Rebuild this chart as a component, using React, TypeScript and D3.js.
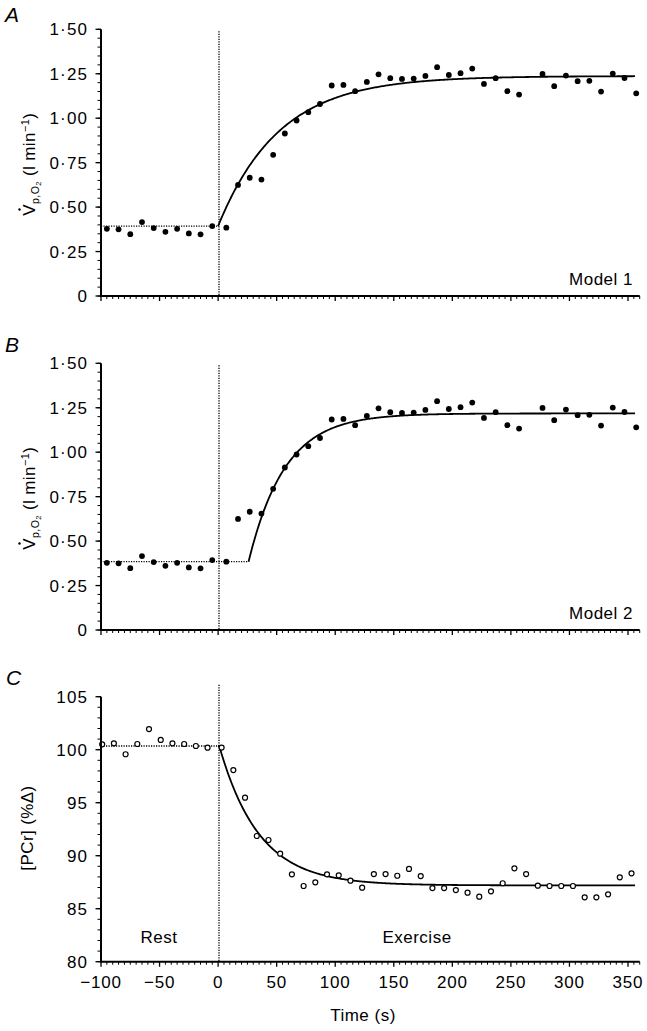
import React from "react";
import * as d3 from "d3";

// ---- Data ----
const restTimes = [-95, -85, -75, -65, -55, -45, -35, -25, -15, -5];
const restVO2 = [0.378, 0.375, 0.348, 0.416, 0.382, 0.361, 0.378, 0.352, 0.347, 0.393];
const exTimes = [7, 17, 27, 37, 47, 57, 67, 77, 87, 97, 107, 117, 127, 137, 147, 157, 167, 177, 187, 197, 207, 217, 227, 237, 247, 257, 277, 287, 297, 307, 317, 327, 337, 347, 357];
const exVO2 = [0.384, 0.625, 0.665, 0.655, 0.794, 0.914, 0.987, 1.034, 1.08, 1.184, 1.187, 1.152, 1.204, 1.247, 1.225, 1.221, 1.223, 1.238, 1.287, 1.243, 1.253, 1.279, 1.193, 1.225, 1.152, 1.133, 1.249, 1.18, 1.24, 1.208, 1.21, 1.15, 1.251, 1.226, 1.14];

const pcrRestTimes = [-99, -89, -79, -69, -59, -49, -39, -29, -19, -9];
const pcrRest = [100.51, 100.6, 99.57, 100.54, 101.95, 100.92, 100.6, 100.54, 100.35, 100.19];
const pcrExTimes = [3, 13, 23, 33, 43, 53, 63, 73, 83, 93, 103, 113, 123, 133, 143, 153, 163, 173, 183, 193, 203, 213, 223, 233, 243, 253, 263, 273, 283, 293, 303, 313, 323, 333, 343, 353];
const pcrEx = [100.2, 98.08, 95.47, 91.86, 91.48, 90.19, 88.24, 87.14, 87.49, 88.24, 88.15, 87.64, 86.98, 88.27, 88.27, 88.11, 88.75, 88.08, 86.95, 86.95, 86.76, 86.51, 86.13, 86.64, 87.4, 88.81, 88.27, 87.17, 87.14, 87.14, 87.14, 86.07, 86.07, 86.36, 87.96, 88.34];

// model fit parameters [baseline, asymptote, tau, delay]
const fitModel1 = [0.393, 1.237, 52, 0];
const fitModel2 = [0.384, 1.218, 31, 26];
const fitPCr = [100.35, 87.2, 34, 1];

const xTicks = [-100, -50, 0, 50, 100, 150, 200, 250, 300, 350];
const vo2Ticks = [0, 0.25, 0.5, 0.75, 1.0, 1.25, 1.5];
const pcrTicks = [80, 85, 90, 95, 100, 105];

const FONT = "'Liberation Sans', Arial, Helvetica, sans-serif";

const x = d3.scaleLinear().domain([-100, 350]).range([101, 628]);
const X_END = 360;

function fitPoints(p: number[]) {
  const [b, a, tau, td] = p;
  const pts: [number, number][] = [];
  for (let t = td; t <= 356; t += 1) {
    pts.push([t, b + (a - b) * (1 - Math.exp(-(t - td) / tau))]);
  }
  return pts;
}

function fmtVO2(v: number) {
  if (v === 0) return "0";
  return v.toFixed(2).replace(".", "·");
}

function XAxis({ y, labels }: { y: number; labels: boolean }) {
  const minor = d3.range(-100, X_END + 1, 5).filter((t) => t % 50 !== 0);
  return (
    <g>
      <line x1={x(-100)} x2={x(X_END)} y1={y} y2={y} stroke="#000" strokeWidth={2} />
      {minor.map((t) => (
        <line key={"m" + t} x1={x(t)} x2={x(t)} y1={y} y2={y + 3} stroke="#000" strokeWidth={1} />
      ))}
      {xTicks.map((t) => (
        <line key={"M" + t} x1={x(t)} x2={x(t)} y1={y} y2={y + 5} stroke="#000" strokeWidth={1.3} />
      ))}
      {labels &&
        xTicks.map((t) => (
          <text key={"l" + t} x={x(t)} y={y + 26} textAnchor="middle" fontSize={17} fontFamily={FONT} letterSpacing={0.8}>
            {t < 0 ? "−" + Math.abs(t) : String(t)}
          </text>
        ))}
    </g>
  );
}

function YAxis({ scale, ticks, minorStep, fmt }: { scale: d3.ScaleLinear<number, number>; ticks: number[]; minorStep: number; fmt: (v: number) => string }) {
  const [d0, d1] = scale.domain();
  const minor = d3.range(d0, d1 + minorStep / 2, minorStep);
  return (
    <g>
      <line x1={101} x2={101} y1={scale(d0) + 1} y2={scale(d1)} stroke="#000" strokeWidth={2} />
      {minor.map((v, i) => (
        <line key={"m" + i} x1={101} x2={97.5} y1={scale(v)} y2={scale(v)} stroke="#000" strokeWidth={1} />
      ))}
      {ticks.map((v) => (
        <line key={"M" + v} x1={101} x2={95.5} y1={scale(v)} y2={scale(v)} stroke="#000" strokeWidth={1.3} />
      ))}
      {ticks.map((v) => (
        <text key={"l" + v} x={88} y={scale(v) + 6} textAnchor="end" fontSize={17} fontFamily={FONT} letterSpacing={1.1}>
          {fmt(v)}
        </text>
      ))}
    </g>
  );
}

function VO2Label({ by }: { by: number }) {
  return (
    <g transform={`translate(35,${by}) rotate(-90)`}>
      <text x={0} y={0} textAnchor="start" fontSize={17} fontFamily={FONT} letterSpacing={0.4}>
        <tspan>V</tspan>
        <tspan dy={4} fontSize={10.5}>p,O</tspan>
        <tspan dy={2} fontSize={7.5}>2</tspan>
        <tspan dy={-6}>{"  (l min"}</tspan>
        <tspan dy={-6} fontSize={11}>−1</tspan>
        <tspan dy={6}>)</tspan>
      </text>
      <circle cx={6.2} cy={-15.5} r={1.2} fill="#000" />
    </g>
  );
}

function VO2Panel({ top, bottom, fit, dotY, modelLabel, letter, letterY }: { top: number; bottom: number; fit: number[]; dotY: number; modelLabel: string; letter: string; letterY: number }) {
  const y = d3.scaleLinear().domain([0, 1.5]).range([bottom, top]);
  const line = d3.line<[number, number]>().x((d) => x(d[0])).y((d) => y(d[1]));
  const pts = fitPoints(fit);
  return (
    <g>
      <text x={5} y={letterY} fontSize={21} fontStyle="italic" fontFamily={FONT}>{letter}</text>
      <line x1={219} x2={219} y1={top + 2} y2={bottom} stroke="#000" strokeWidth={1.3} strokeDasharray="1.2,1.3" />
      <line x1={x(-100)} x2={x(fit[3])} y1={y(dotY)} y2={y(dotY)} stroke="#000" strokeWidth={1.3} strokeDasharray="1.2,1.3" />
      <path d={line(pts) || ""} fill="none" stroke="#000" strokeWidth={1.8} />
      {restTimes.map((t, i) => (
        <circle key={"r" + i} cx={x(t)} cy={y(restVO2[i])} r={2.9} fill="#000" />
      ))}
      {exTimes.map((t, i) => (
        <circle key={"e" + i} cx={x(t)} cy={y(exVO2[i])} r={2.9} fill="#000" />
      ))}
      <YAxis scale={y} ticks={vo2Ticks} minorStep={0.05} fmt={fmtVO2} />
      <XAxis y={bottom} labels={false} />
      <VO2Label by={(top + bottom) / 2 + 53} />
      <text x={633} y={bottom - 11} textAnchor="end" fontSize={17} fontFamily={FONT} letterSpacing={0.5}>{modelLabel}</text>
    </g>
  );
}

function PCrPanel() {
  const top = 696.7;
  const bottom = 961.7;
  const y = d3.scaleLinear().domain([80, 105]).range([bottom, top]);
  const line = d3.line<[number, number]>().x((d) => x(d[0])).y((d) => y(d[1]));
  const pts = fitPoints(fitPCr);
  return (
    <g>
      <text x={6} y={685} fontSize={21} fontStyle="italic" fontFamily={FONT}>C</text>
      <line x1={219} x2={219} y1={top - 12} y2={bottom} stroke="#000" strokeWidth={1.3} strokeDasharray="1.2,1.3" />
      <line x1={x(-100)} x2={x(0)} y1={y(fitPCr[0])} y2={y(fitPCr[0])} stroke="#000" strokeWidth={1.3} strokeDasharray="1.2,1.3" />
      <path d={line([[0, fitPCr[0]], ...pts]) || ""} fill="none" stroke="#000" strokeWidth={1.8} />
      {pcrRestTimes.map((t, i) => (
        <circle key={"r" + i} cx={x(t)} cy={y(pcrRest[i])} r={2.5} fill="#fff" stroke="#000" strokeWidth={1.2} />
      ))}
      {pcrExTimes.map((t, i) => (
        <circle key={"e" + i} cx={x(t)} cy={y(pcrEx[i])} r={2.5} fill="#fff" stroke="#000" strokeWidth={1.2} />
      ))}
      <YAxis scale={y} ticks={pcrTicks} minorStep={1} fmt={(v) => String(v)} />
      <XAxis y={bottom} labels={true} />
      <text transform={`translate(33,828) rotate(-90)`} textAnchor="middle" fontSize={17} fontFamily={FONT} letterSpacing={0.4}>[PCr] (%Δ)</text>
      <text x={159} y={943} textAnchor="middle" fontSize={17} fontFamily={FONT} letterSpacing={0.5}>Rest</text>
      <text x={417} y={943} textAnchor="middle" fontSize={17} fontFamily={FONT} letterSpacing={0.5}>Exercise</text>
      <text x={363} y={1021} textAnchor="middle" fontSize={17} fontFamily={FONT} letterSpacing={0.5}>Time (s)</text>
    </g>
  );
}

export default function App() {
  return (
    <div style={{ position: "absolute", left: 0, top: 0 }}>
      <svg width={647} height={1031} style={{ display: "block", background: "#fff" }}>
        <VO2Panel top={29.3} bottom={296} fit={fitModel1} dotY={fitModel1[0]} modelLabel="Model 1" letter="A" letterY={22} />
        <VO2Panel top={363.3} bottom={630} fit={fitModel2} dotY={fitModel2[0]} modelLabel="Model 2" letter="B" letterY={352} />
        <PCrPanel />
      </svg>
    </div>
  );
}
